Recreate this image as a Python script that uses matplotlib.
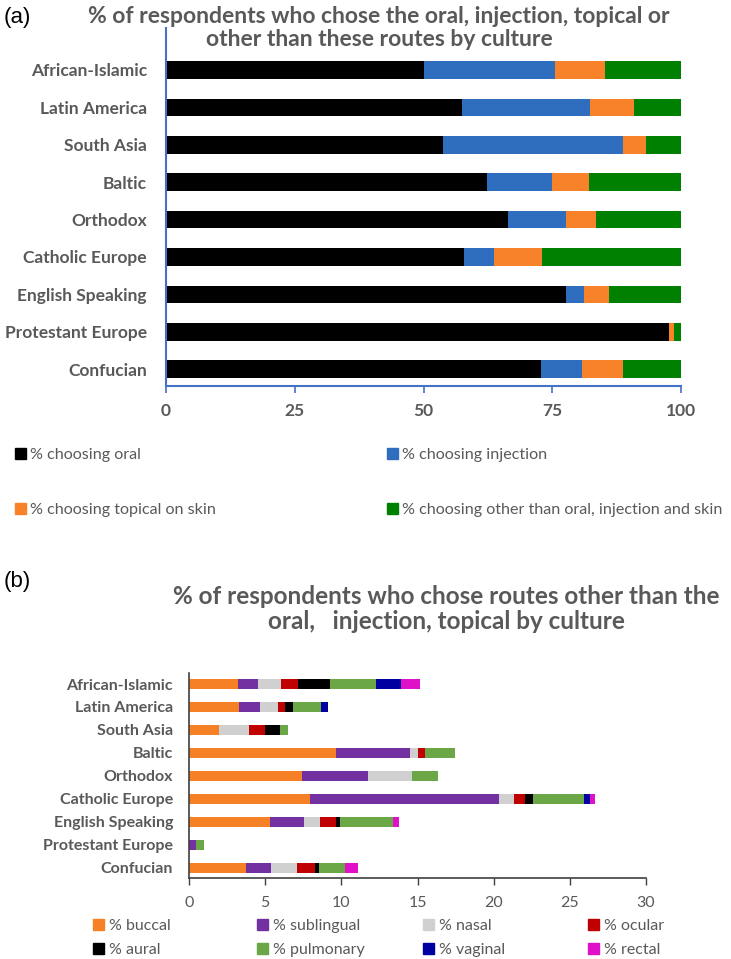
import matplotlib
matplotlib.use("Agg")
import matplotlib.pyplot as plt
from matplotlib.patches import Patch
import numpy as np

plt.rcParams['font.family'] = ['Lato', 'DejaVu Sans']

cultures = ['African-Islamic', 'Latin America', 'South Asia', 'Baltic', 'Orthodox',
            'Catholic Europe', 'English Speaking', 'Protestant Europe', 'Confucian']

# panel (a): % choosing each route
oral      = [50.1, 57.4, 53.8, 62.4, 66.4, 57.8, 77.7, 97.7, 72.9]
injection = [25.4, 25.0, 35.0, 12.6, 11.2, 5.8, 3.4, 0.0, 7.9]
topical   = [9.8, 8.4, 4.4, 7.2, 5.8, 9.5, 4.9, 1.0, 8.0]
other     = [14.7, 9.2, 6.8, 17.8, 16.6, 26.9, 14.0, 1.3, 11.2]

# panel (b): other routes
buccal     = [3.19, 3.26, 1.97, 9.67, 7.42, 7.97, 5.34, 0.0, 3.74]
sublingual = [1.32, 1.40, 0.0, 4.86, 4.33, 12.39, 2.19, 0.44, 1.66]
nasal      = [1.51, 1.18, 1.99, 0.48, 2.87, 0.98, 1.05, 0.0, 1.67]
ocular     = [1.11, 0.48, 1.01, 0.49, 0.0, 0.74, 1.09, 0.0, 1.22]
aural      = [2.15, 0.49, 0.98, 0.0, 0.0, 0.47, 0.26, 0.0, 0.27]
pulmonary  = [3.02, 1.86, 0.57, 1.99, 1.75, 3.39, 3.48, 0.54, 1.68]
vaginal    = [1.64, 0.45, 0.0, 0.0, 0.0, 0.41, 0.0, 0.0, 0.0]
rectal     = [1.20, 0.0, 0.0, 0.0, 0.0, 0.31, 0.38, 0.0, 0.83]

a_series = [oral, injection, topical, other]
a_names = ['% choosing oral', '% choosing injection', '% choosing topical on skin',
           '% choosing other than oral, injection and skin']
a_colors = ['#000000', '#2F6DBF', '#F7822A', '#008000']

b_series = [buccal, sublingual, nasal, ocular, aural, pulmonary, vaginal, rectal]
b_names = ['% buccal', '% sublingual', '% nasal', '% ocular',
           '% aural', '% pulmonary', '% vaginal', '% rectal']
b_colors = ['#F58025', '#7330A0', '#D0D0D0', '#C00000',
            '#000000', '#6BA746', '#0000A0', '#E010C8']

grey = '#595959'
W, H = 731, 959
fig = plt.figure(figsize=(W / 100, H / 100), dpi=100)

def fx(px):
    return px / W

def fy(py):
    return 1 - py / H

y = np.arange(len(cultures))

# ---------- panel (a) ----------
ax1 = fig.add_axes([fx(166), fy(386), fx(681) - fx(166), fy(28) - fy(386)])
left = np.zeros(len(cultures))
handles_a = []
for vals, c in zip(a_series, a_colors):
    ax1.barh(y, vals, left=left, height=0.47, color=c)
    left += np.array(vals)
    handles_a.append(Patch(color=c))
ax1.set_xlim(0, 100)
ax1.set_ylim(8.45, -1.12)
ax1.set_xticks([0, 25, 50, 75, 100])
ax1.set_yticks(y)
ax1.set_yticklabels(cultures, fontsize=12.5, fontweight='bold', color=grey)
ax1.tick_params(axis='y', length=0, pad=13.7)
ax1.tick_params(axis='x', colors='#4472C4', length=5, width=1.2, labelsize=12.5, pad=7)
for t in ax1.get_xticklabels():
    t.set_color(grey)
    t.set_fontweight('bold')
for s in ['top', 'right']:
    ax1.spines[s].set_visible(False)
for s in ['left', 'bottom']:
    ax1.spines[s].set_color('#4472C4')
    ax1.spines[s].set_linewidth(1.5)

fig.text(fx(379), fy(28), '% of respondents who chose the oral, injection, topical or\nother than these routes by culture',
         ha='center', va='center', fontsize=16.5, fontweight='bold', color=grey, linespacing=1.12)
fig.text(fx(4), fy(17), '(a)', ha='left', va='center', fontsize=16, family='Liberation Sans')

for col, x0 in enumerate([15, 387]):
    fig.legend([handles_a[col], handles_a[col + 2]], [a_names[col], a_names[col + 2]],
               loc='upper left', bbox_to_anchor=(fx(x0), fy(448)), frameon=False,
               borderpad=0, borderaxespad=0, handlelength=0.7, handleheight=0.7,
               handletextpad=0.25, labelspacing=2.5, fontsize=11.6, labelcolor=grey)

# ---------- panel (b) ----------
ax2 = fig.add_axes([fx(189), fy(878), fx(646) - fx(189), fy(673) - fy(878)])
left = np.zeros(len(cultures))
handles_b = []
for vals, c in zip(b_series, b_colors):
    ax2.barh(y, vals, left=left, height=0.45, color=c)
    left += np.array(vals)
    handles_b.append(Patch(color=c))
ax2.set_xlim(0, 30)
ax2.set_ylim(8.45, -0.48)
ax2.set_xticks(np.arange(0, 31, 5))
ax2.set_yticks(y)
ax2.set_yticklabels(cultures, fontsize=11.5, fontweight='bold', color=grey)
ax2.tick_params(axis='y', length=0, pad=11.5)
ax2.tick_params(axis='x', colors='#404040', length=5, width=1, labelsize=11.5, pad=8)
for t in ax2.get_xticklabels():
    t.set_color(grey)
for s in ['top', 'right']:
    ax2.spines[s].set_visible(False)
for s in ['left', 'bottom']:
    ax2.spines[s].set_color('#404040')
    ax2.spines[s].set_linewidth(1.2)

fig.text(fx(446), fy(609), '% of respondents who chose routes other than the\noral,   injection, topical by culture',
         ha='center', va='center', fontsize=17.5, fontweight='bold', color=grey, linespacing=1.15)
fig.text(fx(4), fy(582), '(b)', ha='left', va='center', fontsize=16, family='Liberation Sans')

for col, x0 in enumerate([93, 257, 423, 588]):
    fig.legend([handles_b[col], handles_b[col + 4]], [b_names[col], b_names[col + 4]],
               loc='upper left', bbox_to_anchor=(fx(x0), fy(919)), frameon=False,
               borderpad=0, borderaxespad=0, handlelength=0.7, handleheight=0.7,
               handletextpad=0.3, labelspacing=0.6, fontsize=11.5, labelcolor=grey)

fig.savefig('out.png', dpi=100)
